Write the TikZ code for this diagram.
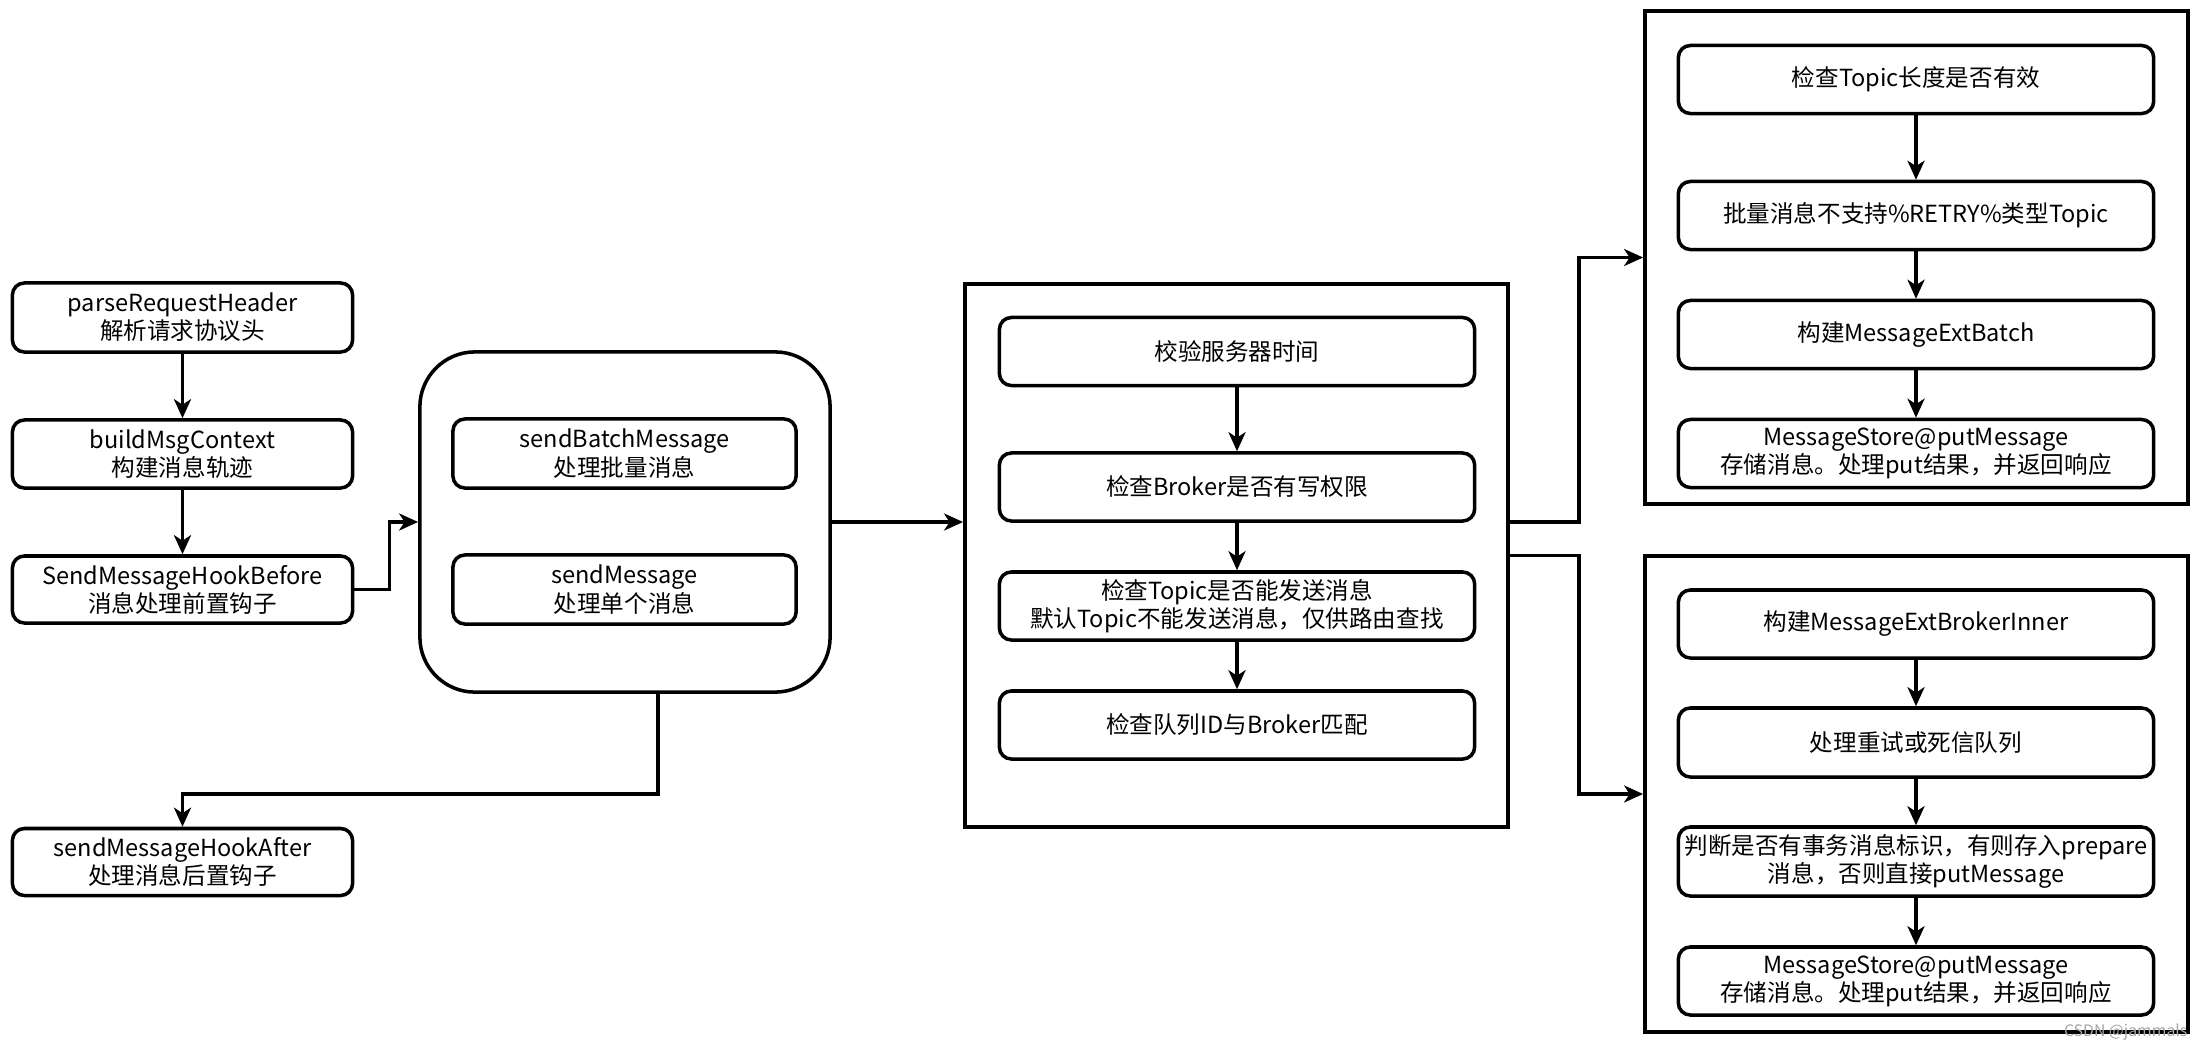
\documentclass[tikz,border=0pt]{standalone}
\usepackage{fontspec}
\setmainfont{Noto Sans CJK SC}
\usetikzlibrary{arrows.meta}

\begin{document}
\begin{tikzpicture}[x=0.01cm, y=-0.01cm,
    >={Stealth[length=1.9mm, width=1.7mm, inset=0.55mm]},
    box/.style={draw, line width=1pt, rounded corners=1.2mm, align=center,
        inner sep=0pt, font=\fontsize{6.7}{8}\selectfont},
    frame/.style={draw, line width=1pt, inner sep=0pt},
    link/.style={->, line width=1pt}]
    \useasboundingbox (0,0) rectangle (2206,1048);

    % 1. 左侧请求处理步骤 (从上到下)
    \node[box, minimum width=3.40cm, minimum height=0.69cm] (parse) at (182.5, 317.5) {parseRequestHeader\\解析请求协议头};
    \node[box, minimum width=3.40cm, minimum height=0.68cm] (build) at (182.5, 454) {buildMsgContext\\构建消息轨迹};
    \node[box, minimum width=3.40cm, minimum height=0.67cm] (before) at (182.5, 589.5) {SendMessageHookBefore\\消息处理前置钩子};
    \node[box, minimum width=3.40cm, minimum height=0.67cm] (after) at (182.5, 862) {sendMessageHookAfter\\处理消息后置钩子};

    % 2. 圆角外框, 内含批量与单个消息两种处理
    \node[frame, rounded corners=5.5mm, minimum width=4.10cm, minimum height=3.40cm] (send) at (625, 522) {};
    \node[box, minimum width=3.43cm, minimum height=0.69cm] (batch) at (624.5, 453.5) {sendBatchMessage\\处理批量消息};
    \node[box, minimum width=3.43cm, minimum height=0.69cm] (single) at (624.5, 589.5) {sendMessage\\处理单个消息};

    % 3. 中间检查步骤
    \node[frame, minimum width=5.43cm, minimum height=5.43cm] (check) at (1236.5, 555.5) {};
    \node[box, minimum width=4.75cm, minimum height=0.68cm] (time) at (1237, 351.5) {校验服务器时间};
    \node[box, minimum width=4.75cm, minimum height=0.68cm] (perm) at (1237, 487) {检查Broker是否有写权限};
    \node[box, minimum width=4.75cm, minimum height=0.68cm] (topic) at (1237, 606) {检查Topic是否能发送消息\\默认Topic不能发送消息，仅供路由查找};
    \node[box, minimum width=4.75cm, minimum height=0.68cm] (queue) at (1237, 725) {检查队列ID与Broker匹配};

    % 4. 右上: 批量消息存储
    \node[frame, minimum width=5.43cm, minimum height=4.93cm] (upper) at (1916.5, 257.5) {};
    \node[box, minimum width=4.75cm, minimum height=0.68cm] (len) at (1916, 79.5) {检查Topic长度是否有效};
    \node[box, minimum width=4.75cm, minimum height=0.68cm] (retry) at (1916, 215.5) {批量消息不支持\%RETRY\%类型Topic};
    \node[box, minimum width=4.75cm, minimum height=0.68cm] (extbatch) at (1916, 334.5) {构建MessageExtBatch};
    \node[box, minimum width=4.75cm, minimum height=0.68cm] (storeA) at (1916, 453.5) {MessageStore@putMessage\\存储消息。处理put结果，并返回响应};

    % 5. 右下: 单个消息存储
    \node[frame, minimum width=5.43cm, minimum height=4.76cm] (lower) at (1916.5, 794) {};
    \node[box, minimum width=4.75cm, minimum height=0.68cm] (inner) at (1916, 624) {构建MessageExtBrokerInner};
    \node[box, minimum width=4.75cm, minimum height=0.69cm] (dlq) at (1916, 742.5) {处理重试或死信队列};
    \node[box, minimum width=4.75cm, minimum height=0.69cm] (trans) at (1916, 861.5) {判断是否有事务消息标识，有则存入prepare\\消息，否则直接putMessage};
    \node[box, minimum width=4.75cm, minimum height=0.68cm] (storeB) at (1916, 981) {MessageStore@putMessage\\存储消息。处理put结果，并返回响应};

    % 6. 连接箭头
    \draw[link] (parse) -- (build);
    \draw[link] (build) -- (before);
    \draw[link] (before.east) -- ++(35, 0) |- (send.west);
    \draw[link] (send.east) -- (send.east -| check.west);
    \draw[link] ([xshift=0.33cm]send.south) -- ++(0, 100) -| (after.north);
    \draw[link] (time) -- (perm);
    \draw[link] (perm) -- (topic);
    \draw[link] (topic) -- (queue);
    \draw[link] (check.east |- send.east) -- ++(69, 0) |- (upper.west);
    \draw[link] (check.east) -- ++(69, 0) |- (lower.west);
    \draw[link] (len) -- (retry);
    \draw[link] (retry) -- (extbatch);
    \draw[link] (extbatch) -- (storeA);
    \draw[link] (inner) -- (dlq);
    \draw[link] (dlq) -- (trans);
    \draw[link] (trans) -- (storeB);

    % 7. 水印
    \node[text=black!35, font=\fontsize{4.5}{5}\selectfont, inner sep=0pt, anchor=east] (mark) at (2188, 1032) {CSDN @jammals};
\end{tikzpicture}
\end{document}
